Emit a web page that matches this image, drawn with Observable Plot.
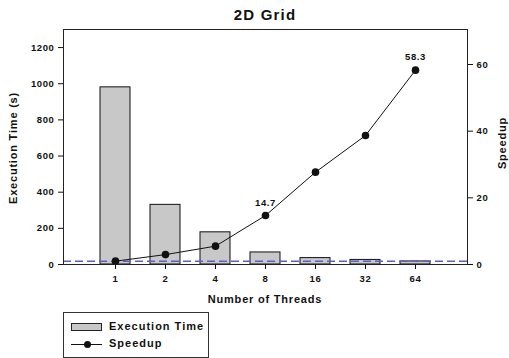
<!DOCTYPE html>
<html><head><meta charset="utf-8">
<script src="https://cdn.jsdelivr.net/npm/d3@7"></script>
<script src="https://cdn.jsdelivr.net/npm/@observablehq/plot@0.6"></script>
<style>
body{margin:0;background:#fff;font-family:"Liberation Sans",Arial,sans-serif;}
#c{position:relative;width:509px;height:358px;overflow:hidden;background:#fff}
#c svg{position:absolute;left:0;top:0}
#c svg text{letter-spacing:0.6px}
.t{position:absolute;font-weight:bold;color:#111;white-space:nowrap}
#title{left:0;width:530px;top:6px;text-align:center;font-size:15px;letter-spacing:1.2px}
#xl{left:0;width:530px;top:293px;text-align:center;font-size:11px;letter-spacing:0.8px}
.rot{height:14px;line-height:14px;text-align:center;font-size:11px;letter-spacing:0.8px;transform:rotate(-90deg);transform-origin:50% 50%}
#yl{left:-52px;width:130px;top:141px}
#y2l{left:467px;width:70px;top:136px}
#leg{position:absolute;left:63px;top:312px;width:144px;height:44px;border:1px solid #333;background:#fff}
.sw{position:absolute;left:7px;top:10px;width:29px;height:6px;background:#c8c8c8;border:1px solid #222}
.ln{position:absolute;left:7px;top:31px;width:31px;height:1px;background:#111}
.dt{position:absolute;left:20px;top:28px;width:7px;height:7px;border-radius:50%;background:#111}
.lt{position:absolute;left:45px;font-size:11px;font-weight:bold;letter-spacing:1px;color:#111}
</style></head><body><div id="c">
<div class="t" id="title">2D Grid</div>
<div class="t" id="xl">Number of Threads</div>
<div class="t rot" id="yl">Execution Time (s)</div>
<div class="t rot" id="y2l">Speedup</div>
<div id="leg"><div class="sw"></div><div class="lt" style="top:7px">Execution Time</div>
<div class="ln"></div><div class="dt"></div><div class="lt" style="top:24px">Speedup</div></div>
</div>
<script>
const threads = ["1", "2", "4", "8", "16", "32", "64"];
const execTime = [980, 330, 178, 66.7, 35.4, 25.3, 16.8];
const speedup = [1, 2.97, 5.5, 14.7, 27.7, 38.7, 58.3];
const labeledThreads = ["8", "64"];
const leftTicks = [0, 200, 400, 600, 800, 1000, 1200];
const rightTicks = [0, 20, 40, 60];
const referenceSpeedup = 1;
const yMax = 1300, y2Max = 70.5;
const k = yMax / y2Max;

const data = threads.map((t, i) => ({t, time: execTime[i], s: speedup[i]}));
const labeled = data.filter(d => labeledThreads.includes(d.t));

const plot = Plot.plot({
  width: 509, height: 305,
  marginLeft: 63, marginRight: 42, marginTop: 29, marginBottom: 41,
  style: {fontFamily: '"Liberation Sans", Arial, sans-serif', fontWeight: "bold", fontSize: "9.5px", color: "#111", background: "transparent"},
  x: {type: "band", domain: threads, paddingInner: 0.4, paddingOuter: 0.7, align: 0.5},
  y: {domain: [0, yMax]},
  marks: [
    Plot.barY(data, {x: "t", y: "time", fill: "#c8c8c8", stroke: "#111", strokeWidth: 1}),
    Plot.ruleY([referenceSpeedup * k], {stroke: "#5b60c8", strokeDasharray: "8,4", strokeWidth: 1.5}),
    Plot.line(data, {x: "t", y: d => d.s * k, stroke: "#111", strokeWidth: 1}),
    Plot.dot(data, {x: "t", y: d => d.s * k, r: 3.8, fill: "#111", stroke: "none"}),
    Plot.text(labeled, {x: "t", y: d => d.s * k, text: d => d.s.toFixed(1), dy: -13, fontSize: 9.5, fontWeight: "bold", fill: "#111"}),
    Plot.frame({stroke: "#222", strokeWidth: 1}),
    Plot.axisY({anchor: "left", ticks: leftTicks, tickFormat: v => String(v), tickSize: 5, tickPadding: 4, label: null}),
    Plot.axisY({anchor: "right", ticks: rightTicks.map(v => v * k), tickFormat: v => String(Math.round(v / k)), tickSize: 5, tickPadding: 4, label: null}),
    Plot.axisX({ticks: threads, tickSize: 5, tickPadding: 6, label: null})
  ]
});
document.getElementById("c").prepend(plot);
</script>
</body></html>
